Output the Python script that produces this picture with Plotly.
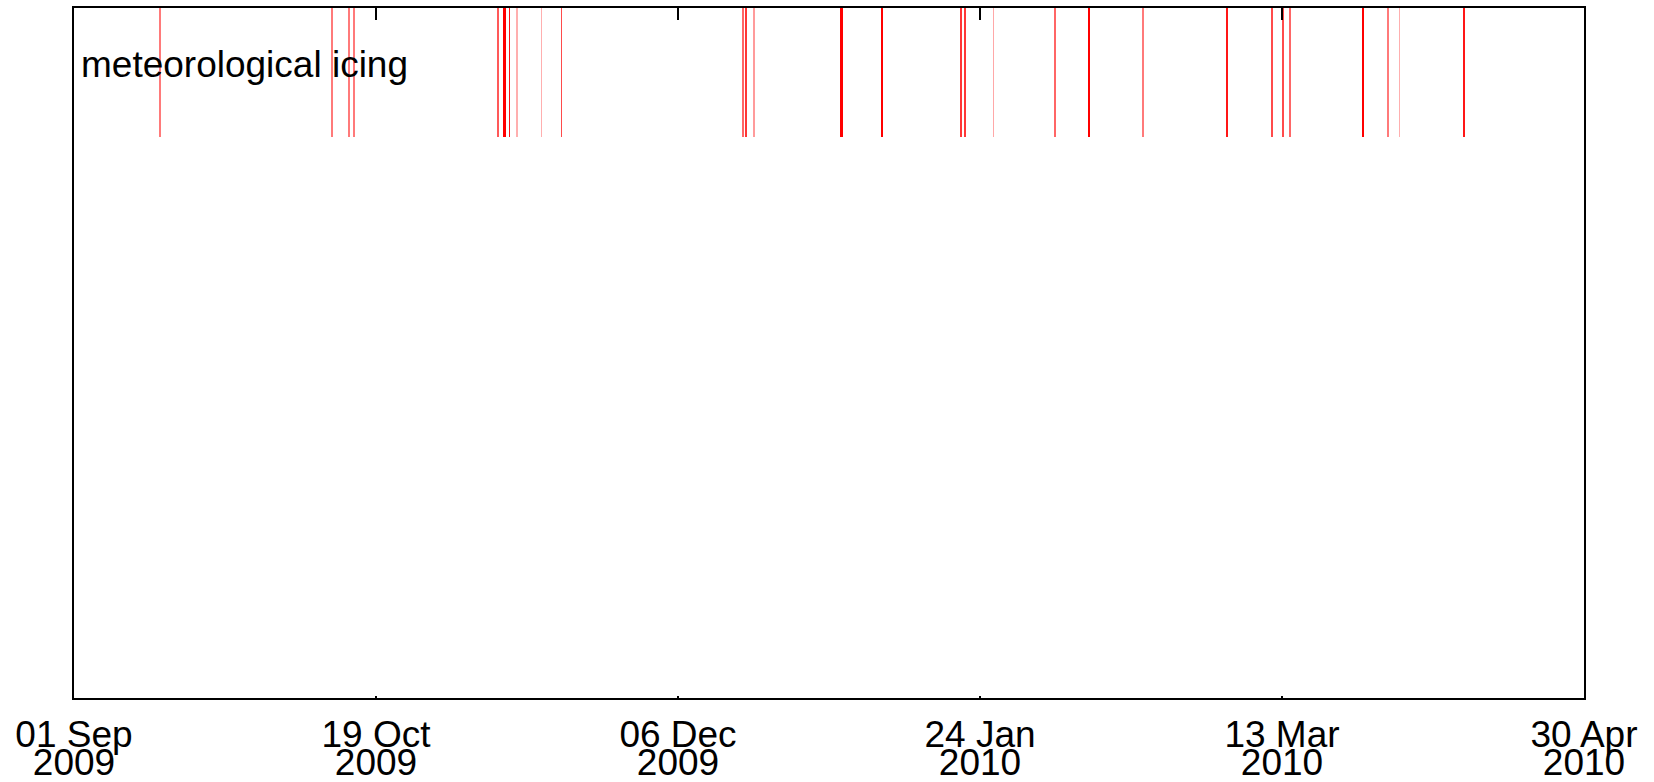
import pandas as pd
import plotly.graph_objects as go

# ---- data ----
event_times = [
    "2009-09-14 17:00", "2009-10-12 05:00", "2009-10-14 22:00", "2009-10-15 17:00",
    "2009-11-07 17:00", "2009-11-08 17:00", "2009-11-09 12:00", "2009-11-10 17:00",
    "2009-11-14 14:00", "2009-11-17 19:00", "2009-12-16 19:00", "2009-12-17 05:00",
    "2009-12-18 12:00", "2010-01-01 12:00", "2010-01-08 00:00", "2010-01-20 14:00",
    "2010-01-21 05:00", "2010-01-25 17:00", "2010-02-04 14:00", "2010-02-10 02:00",
    "2010-02-18 14:00", "2010-03-04 02:00", "2010-03-11 05:00", "2010-03-13 00:00",
    "2010-03-14 02:00", "2010-03-25 17:00", "2010-03-29 17:00", "2010-03-31 12:00",
    "2010-04-10 22:00",
]
event_hours = [
    2.0, 2.0, 2.0, 2.0,
    2.5, 13.0, 3.5, 1.2,
    1.2, 2.7, 2.3, 3.0,
    1.5, 10.0, 4.0, 3.0,
    3.0, 1.3, 2.3, 6.0,
    2.0, 3.5, 2.7, 2.7,
    2.3, 4.0, 2.0, 1.2,
    3.5,
]
range_start = "2009-09-01"
range_end = "2010-04-30"
tick_days = [0, 48.2, 96.4, 144.6, 192.8, 241]
tick_day_month = ["01 Sep", "19 Oct", "06 Dec", "24 Jan", "13 Mar", "30 Apr"]
tick_years = ["2009", "2009", "2009", "2010", "2010", "2010"]
label_text = "meteorological icing"

# ---- derived ----
t0 = pd.Timestamp(range_start)
tickvals = [t0 + pd.Timedelta(days=d) for d in tick_days]
plot_w = 1510
total_hours = (pd.Timestamp(range_end) - t0).total_seconds() / 3600
px_per_hour = plot_w / total_hours
opac = [min(1.0, h * px_per_hour) for h in event_hours]
widths = [h * 3600 * 1000 for h in event_hours]

FONT = "Liberation Sans, Arial, Helvetica, sans-serif"
FS = 37

fig = go.Figure()
fig.add_trace(go.Bar(
    x=pd.to_datetime(event_times),
    y=[0.1864] * len(event_times),
    base=0.8136,
    width=widths,
    marker=dict(color="#ff0000", opacity=opac, line=dict(width=0)),
    showlegend=False,
    hoverinfo="x",
))
# helper traces for the extra axes
fig.add_trace(go.Scatter(x=[t0], y=[0], xaxis="x2", mode="markers",
                         marker=dict(opacity=0), showlegend=False, hoverinfo="skip"))
fig.add_trace(go.Scatter(x=[t0], y=[0], xaxis="x3", mode="markers",
                         marker=dict(opacity=0), showlegend=False, hoverinfo="skip"))

rng = [range_start, range_end]
fig.update_layout(
    width=1654, height=782,
    margin=dict(l=74, r=70, t=8, b=84, autoexpand=False),
    paper_bgcolor="white", plot_bgcolor="white",
    font=dict(family=FONT, size=FS, color="black"),
    xaxis=dict(
        type="date", range=rng, tickmode="array", tickvals=tickvals,
        ticktext=tick_day_month, showgrid=False, zeroline=False, automargin=False,
        showline=True, linewidth=2, linecolor="black", mirror=True,
        ticks="inside", ticklen=2, tickwidth=2, tickcolor="black",
        tickfont=dict(size=FS, family=FONT), ticklabelstandoff=3,
    ),
    xaxis2=dict(
        type="date", range=rng, overlaying="x", side="top", anchor="y",
        tickmode="array", tickvals=tickvals, showticklabels=False, automargin=False,
        ticks="inside", ticklen=12, tickwidth=2, tickcolor="black",
        showgrid=False, zeroline=False, showline=False,
    ),
    xaxis3=dict(
        type="date", range=rng, overlaying="x", side="bottom", anchor="y",
        tickmode="array", tickvals=tickvals, ticktext=tick_years, automargin=False,
        ticks="", showgrid=False, zeroline=False, showline=False,
        tickfont=dict(size=FS, family=FONT), ticklabelstandoff=39,
    ),
    yaxis=dict(range=[0, 1], showticklabels=False, ticks="", showgrid=False,
               zeroline=False, showline=True, linewidth=2, linecolor="black",
               mirror=True, fixedrange=True, automargin=False),
    bargap=0,
    annotations=[dict(
        text=label_text, xref="paper", yref="paper", x=0.003, y=0.918,
        xanchor="left", yanchor="middle", showarrow=False,
        font=dict(size=FS, family=FONT, color="black"),
    )],
)

fig.write_html(
    "out.html",
    config={"displayModeBar": False},
    post_script="document.body.style.margin='0';document.body.style.overflow='hidden';",
)
